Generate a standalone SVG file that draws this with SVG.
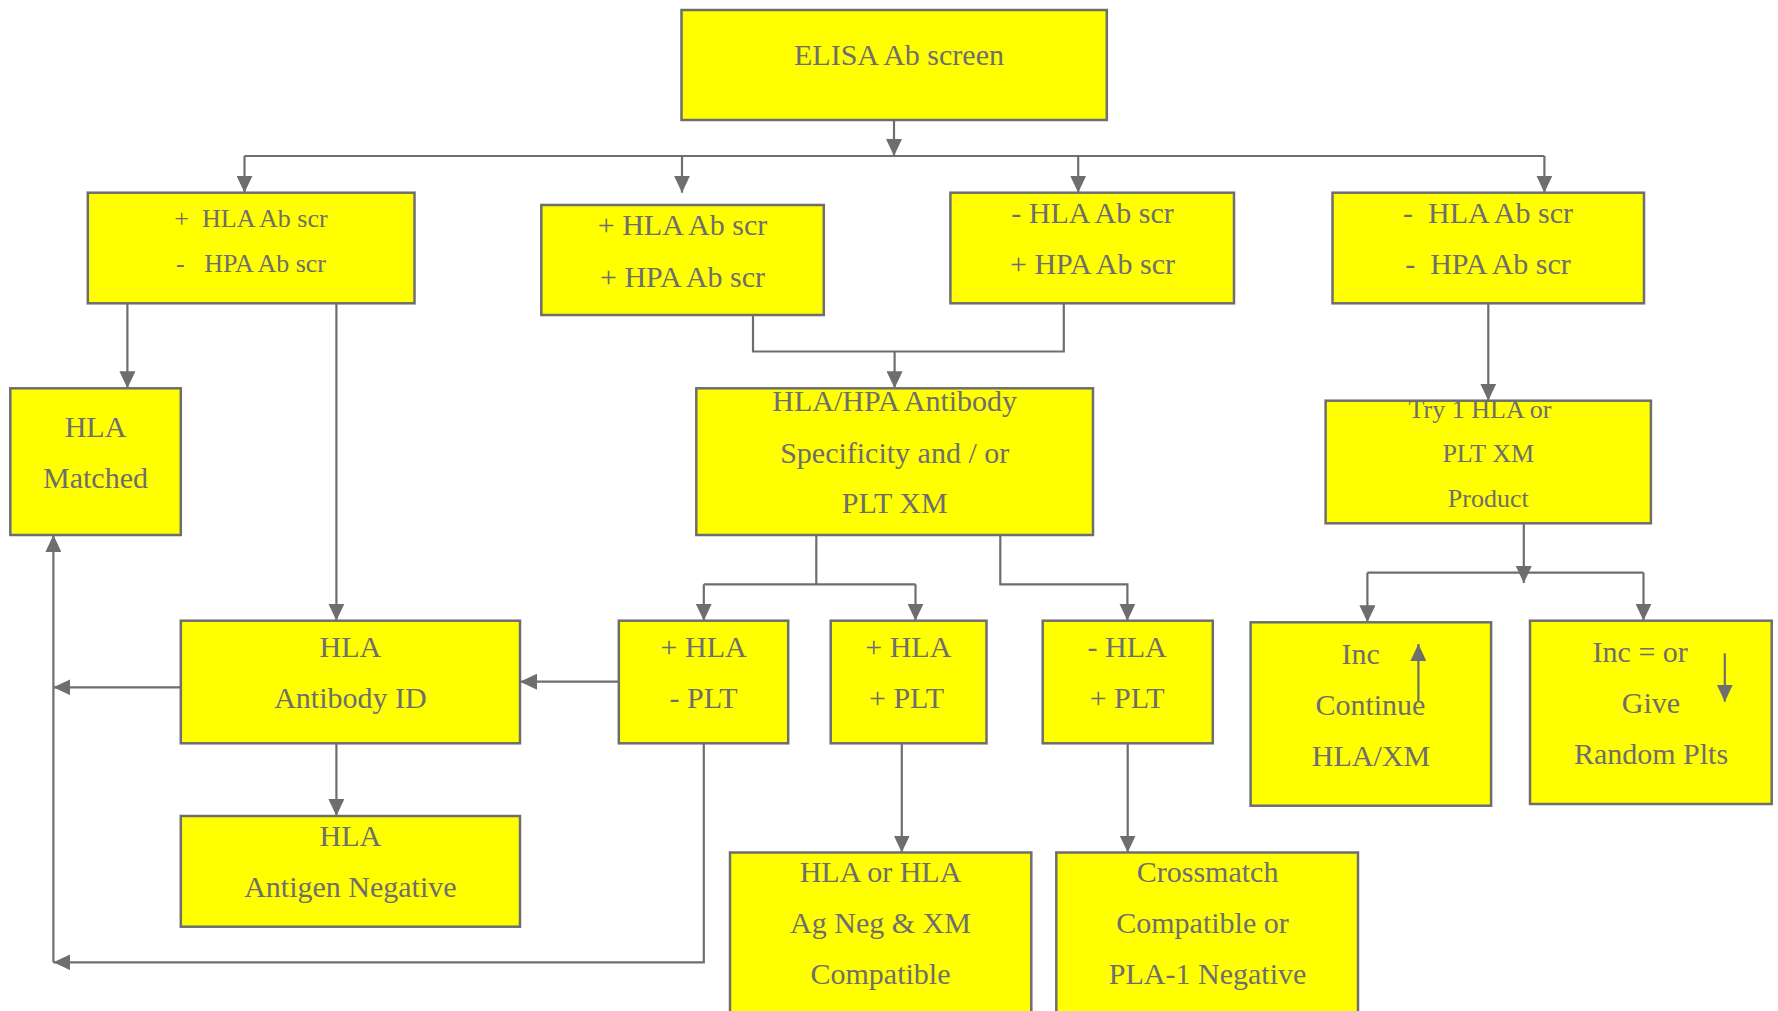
<svg xmlns="http://www.w3.org/2000/svg" width="1778" height="1011" viewBox="0 0 1778 1011">
<style>
.box{fill:#ffff00;stroke:#6e6e6e;stroke-width:2.5}
.t{font-family:"Liberation Serif",serif;font-size:30px;fill:#6e6e6e;text-anchor:middle}
.s{font-size:26px}
.c{fill:none;stroke:#6e6e6e;stroke-width:2.2}
</style>
<defs>
<marker id="ah" viewBox="0 0 17 16" refX="17" refY="8" markerWidth="17" markerHeight="16" markerUnits="userSpaceOnUse" orient="auto">
<path d="M0 0 L17 8 L0 16 Z" fill="#6e6e6e"/>
</marker>
</defs>
<rect width="1778" height="1011" fill="#ffffff"/>

<g id="connectors">
<path class="c" d="M894 120 V156" marker-end="url(#ah)"/>
<path class="c" d="M244.5 156 H1544.4"/>
<path class="c" d="M244.5 156 V192.7" marker-end="url(#ah)"/>
<path class="c" d="M682 156 V192.7" marker-end="url(#ah)"/>
<path class="c" d="M1078.2 156 V192.7" marker-end="url(#ah)"/>
<path class="c" d="M1544.4 156 V192.7" marker-end="url(#ah)"/>
<path class="c" d="M127.4 303.3 V388.3" marker-end="url(#ah)"/>
<path class="c" d="M336.4 303.3 V620.7" marker-end="url(#ah)"/>
<path class="c" d="M753 315 V351.5 H1063.8 V303.3"/>
<path class="c" d="M894.6 351.5 V388.3" marker-end="url(#ah)"/>
<path class="c" d="M1488.3 303.3 V400.7" marker-end="url(#ah)"/>
<path class="c" d="M816.3 535 V584.3"/>
<path class="c" d="M703.8 584.3 H915.5"/>
<path class="c" d="M703.8 584.3 V620.7" marker-end="url(#ah)"/>
<path class="c" d="M915.5 584.3 V620.7" marker-end="url(#ah)"/>
<path class="c" d="M1000.3 535 V584.3 H1127.4 V620.7" marker-end="url(#ah)"/>
<path class="c" d="M1523.8 523.3 V583" marker-end="url(#ah)"/>
<path class="c" d="M1367.4 572.7 H1643.5"/>
<path class="c" d="M1367.4 572.7 V622.3" marker-end="url(#ah)"/>
<path class="c" d="M1643.5 572.7 V620.7" marker-end="url(#ah)"/>
<path class="c" d="M618.8 681.7 H520" marker-end="url(#ah)"/>
<path class="c" d="M180.8 687.3 H53.4" marker-end="url(#ah)"/>
<path class="c" d="M53.4 962.3 V535" marker-end="url(#ah)"/>
<path class="c" d="M703.8 743.3 V962.3 H53.4" marker-end="url(#ah)"/>
<path class="c" d="M336.4 743.3 V816" marker-end="url(#ah)"/>
<path class="c" d="M901.8 743.3 V852.5" marker-end="url(#ah)"/>
<path class="c" d="M1127.7 743.3 V852.5" marker-end="url(#ah)"/>
</g>

<g id="elisa">
<rect class="box" x="681.5" y="10" width="425.3" height="110"/>
<text class="t" x="899" y="65">ELISA Ab screen</text>
</g>

<g id="boxA">
<rect class="box" x="87.8" y="192.7" width="326.7" height="110.6"/>
<text class="t s" x="251" y="226.7" xml:space="preserve">+  HLA Ab scr</text>
<text class="t s" x="251" y="271.7" xml:space="preserve">-   HPA Ab scr</text>
</g>

<g id="boxB">
<rect class="box" x="541.3" y="205" width="282.5" height="110"/>
<text class="t" x="682.5" y="235">+ HLA Ab scr</text>
<text class="t" x="682.5" y="286.7">+ HPA Ab scr</text>
</g>

<g id="boxC">
<rect class="box" x="950.4" y="192.7" width="283.6" height="110.6"/>
<text class="t" x="1092.5" y="222.7">- HLA Ab scr</text>
<text class="t" x="1092.5" y="274">+ HPA Ab scr</text>
</g>

<g id="boxD">
<rect class="box" x="1332.5" y="192.7" width="311.5" height="110.6"/>
<text class="t" x="1488" y="222.7" xml:space="preserve">-  HLA Ab scr</text>
<text class="t" x="1488" y="274" xml:space="preserve">-  HPA Ab scr</text>
</g>

<g id="hlaMatched">
<rect class="box" x="10.3" y="388.3" width="170.5" height="146.7"/>
<text class="t" x="95.5" y="436.7">HLA</text>
<text class="t" x="95.5" y="487.7">Matched</text>
</g>

<g id="specificity">
<rect class="box" x="696.3" y="388.3" width="396.7" height="146.7"/>
<text class="t" x="894.7" y="410.7">HLA/HPA Antibody</text>
<text class="t" x="894.7" y="462.7">Specificity and / or</text>
<text class="t" x="894.7" y="513.3">PLT XM</text>
</g>

<g id="tryProduct">
<rect class="box" x="1325.6" y="400.7" width="325.3" height="122.6"/>
<text class="t s" x="1480" y="418.3">Try 1 HLA or</text>
<text class="t s" x="1488.3" y="461.7">PLT XM</text>
<text class="t s" x="1488.3" y="506.7">Product</text>
</g>

<g id="antibodyID">
<rect class="box" x="180.8" y="620.7" width="339.2" height="122.6"/>
<text class="t" x="350.4" y="656.7">HLA</text>
<text class="t" x="350.4" y="708.3">Antibody ID</text>
</g>

<g id="posHLAnegPLT">
<rect class="box" x="618.8" y="620.7" width="169.4" height="122.6"/>
<text class="t" x="703.6" y="656.7">+ HLA</text>
<text class="t" x="703.6" y="708">- PLT</text>
</g>

<g id="posHLAposPLT">
<rect class="box" x="830.7" y="620.7" width="155.8" height="122.6"/>
<text class="t" x="908.3" y="656.7">+ HLA</text>
<text class="t" x="906.5" y="708">+ PLT</text>
</g>

<g id="negHLAposPLT">
<rect class="box" x="1042.7" y="620.7" width="170.1" height="122.6"/>
<text class="t" x="1127.2" y="656.7">- HLA</text>
<text class="t" x="1127.2" y="707.7">+ PLT</text>
</g>

<g id="incContinue">
<rect class="box" x="1250.6" y="622.3" width="240.5" height="183.4"/>
<text class="t" x="1360.7" y="664">Inc</text>
<text class="t" x="1370.4" y="715">Continue</text>
<text class="t" x="1371" y="765.7">HLA/XM</text>
<path class="c" d="M1418.4 701.7 V644" marker-end="url(#ah)"/>
</g>

<g id="incGive">
<rect class="box" x="1530" y="620.7" width="241.7" height="183.3"/>
<text class="t" x="1640.2" y="662.3">Inc = or</text>
<text class="t" x="1651" y="712.7">Give</text>
<text class="t" x="1651" y="764">Random Plts</text>
<path class="c" d="M1724.8 653.3 V701.7" marker-end="url(#ah)"/>
</g>

<g id="antigenNegative">
<rect class="box" x="180.8" y="816" width="339.2" height="110.7"/>
<text class="t" x="350.4" y="846">HLA</text>
<text class="t" x="350.4" y="896.7">Antigen Negative</text>
</g>

<g id="agNegXM">
<rect class="box" x="730" y="852.5" width="301.3" height="170"/>
<text class="t" x="880.5" y="881.7">HLA or HLA</text>
<text class="t" x="880.5" y="933.3">Ag Neg &amp; XM</text>
<text class="t" x="880.5" y="984">Compatible</text>
</g>

<g id="crossmatch">
<rect class="box" x="1056.3" y="852.5" width="301.7" height="170"/>
<text class="t" x="1207.6" y="881.7">Crossmatch</text>
<text class="t" x="1202.5" y="933.3">Compatible or</text>
<text class="t" x="1207.6" y="984">PLA-1 Negative</text>
</g>
</svg>
